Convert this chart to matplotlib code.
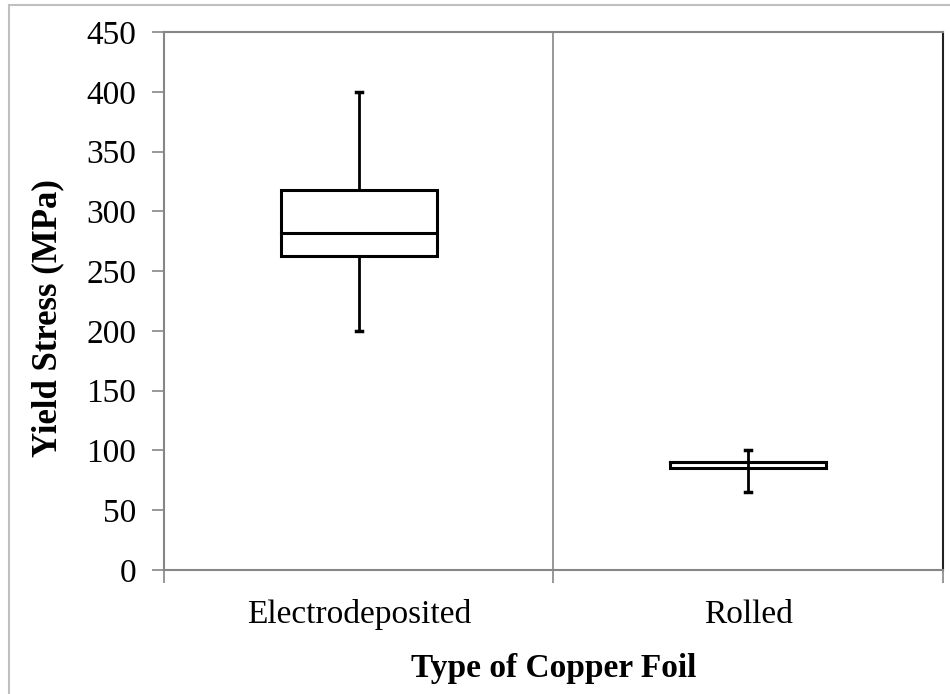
import matplotlib.pyplot as plt
from matplotlib.patches import Rectangle

plt.rcParams['font.family'] = ['Liberation Serif', 'DejaVu Serif']

categories = ['Electrodeposited', 'Rolled']
mins = [200, 65]
q1 = [263, 85]
medians = [282, 90]
q3 = [318, 90]
maxs = [400, 100]

yticks = list(range(0, 451, 50))

fig = plt.figure(figsize=(9.5, 6.94), dpi=100)
ax = fig.add_axes([164/950, 1-570/694, (943-164)/950, (570-32)/694])

grey = '#868686'
width = 0.4
for i in range(len(categories)):
    x = i + 1
    # whiskers
    ax.plot([x, x], [q3[i], maxs[i]], color='black', lw=2, zorder=2)
    ax.plot([x, x], [mins[i], q1[i]], color='black', lw=2, zorder=2)
    ax.plot([x-0.008, x+0.008], [maxs[i], maxs[i]], color='black', lw=2.5, zorder=2)
    ax.plot([x-0.008, x+0.008], [mins[i], mins[i]], color='black', lw=2.5, zorder=2)
    # box
    ax.add_patch(Rectangle((x-width/2, q1[i]), width, q3[i]-q1[i],
                           facecolor='white', edgecolor='black', lw=2.2, zorder=3))
    ax.plot([x-width/2, x+width/2], [medians[i], medians[i]], color='black', lw=2.2, zorder=4)
ax.plot([2, 2], [q1[1], q3[1]], color='black', lw=2, zorder=5)

ax.set_xlim(0.5, 2.5)
ax.set_ylim(0, 450)
ax.set_yticks(yticks)
ax.set_xticks([0.5, 1.5, 2.5])
ax.set_xticklabels([])
ax.set_xticks([1, 2], minor=True)
ax.set_xticklabels(categories, minor=True)
ax.tick_params(axis='x', which='minor', length=0, pad=21, labelsize=24)
ax.tick_params(axis='x', which='major', length=9, color=grey, width=1.2)
ax.tick_params(axis='y', length=9, color=grey, width=1.2, labelsize=24, pad=11)
ax.axvline(1.5, color=grey, lw=1.2, zorder=1)

for s in ['left', 'bottom', 'top']:
    ax.spines[s].set_color(grey)
    ax.spines[s].set_linewidth(1.5)
ax.spines['right'].set_color('#222222')
ax.spines['right'].set_linewidth(1.5)

ax.set_ylabel('Yield Stress (MPa)', fontsize=25, fontweight='bold')
ax.set_xlabel('Type of Copper Foil', fontsize=24, fontweight='bold')
ax.yaxis.set_label_coords(-0.128, 0.468)
ax.xaxis.set_label_coords(0.5, -0.154)

fig.patches.append(Rectangle((9/950, -0.1), 1.0, 1-5/694+0.1, transform=fig.transFigure,
                             fill=False, edgecolor='#c0c0c0', lw=1.5))

fig.savefig('out.png', dpi=100)
